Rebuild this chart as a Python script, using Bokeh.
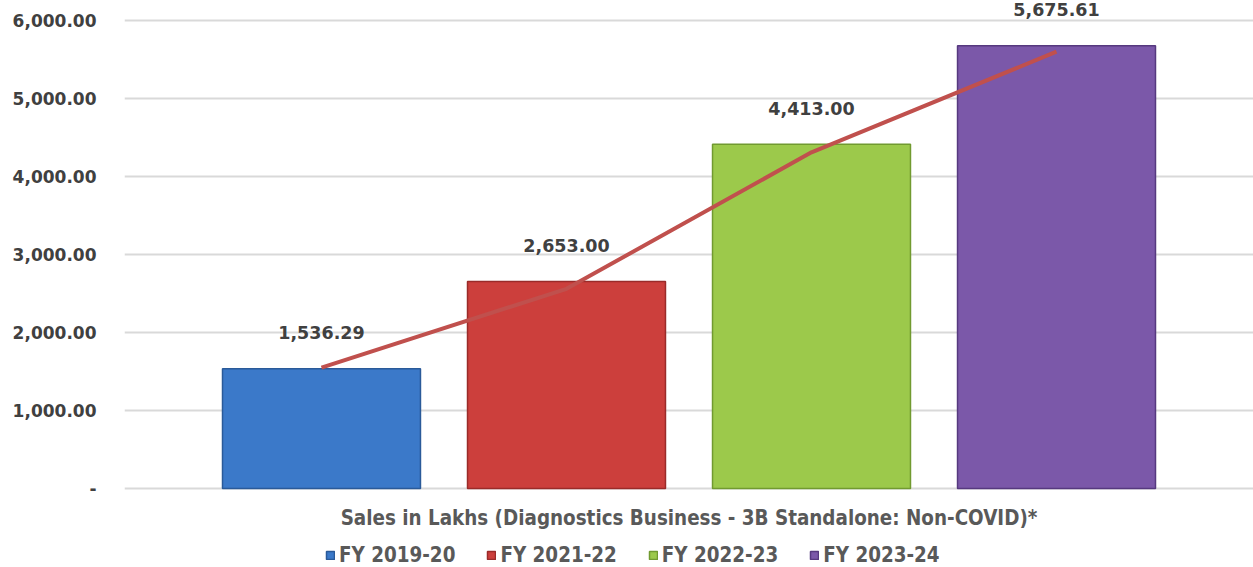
from bokeh.plotting import figure
from bokeh.models import (ColumnDataSource, FixedTicker, NumeralTickFormatter, LabelSet,
                          Legend, LegendItem, Range1d, Label)
from bokeh.core.properties import value
from bokeh.embed import file_html
from bokeh.resources import INLINE

categories = ["FY 2019-20", "FY 2021-22", "FY 2022-23", "FY 2023-24"]
sales = [1536.29, 2653.00, 4413.00, 5675.61]
sales_labels = ["1,536.29", "2,653.00", "4,413.00", "5,675.61"]
trend = [1550, 2560, 4310, 5600]
colors = ["#3b79c9", "#cc3f3c", "#9cc94b", "#7b58a9"]
edges = ["#2a5a99", "#9a2b29", "#719a30", "#56397f"]
y_ticks = [0, 1000, 2000, 3000, 4000, 5000, 6000]
axis_title = "Sales in Lakhs (Diagnostics Business - 3B Standalone: Non-COVID)*"

xs = list(range(len(categories)))
src = ColumnDataSource(dict(x=xs, top=sales, lab=sales_labels, color=colors,
                            edge=edges, cat=categories, trend=trend))

p = figure(width=1253, height=567, output_backend="svg", toolbar_location=None,
           x_range=Range1d(-0.804, 3.804), y_range=Range1d(-1013, 6256),
           min_border_left=124, min_border_right=0, min_border_top=0,
           min_border_bottom=0)
p.outline_line_color = None
p.background_fill_color = "white"
p.xaxis.visible = False

r = p.vbar(x="x", top="top", bottom=0, width=0.808, fill_color="color",
           line_color="edge", line_width=1.5, source=src)
p.line(x="x", y="trend", source=src, line_color="#c0504d", line_width=4)

labels = LabelSet(x="x", y="top", text="lab", source=src, y_offset=36,
                  text_align="center", text_baseline="middle",
                  text_font=value("DejaVu Sans"), text_font_style="bold",
                  text_font_size="17.5px", text_color="#404040")
p.add_layout(labels)

# y axis
p.yaxis.ticker = FixedTicker(ticks=y_ticks)
p.yaxis.formatter = NumeralTickFormatter(format="0,0.00")
p.yaxis.major_label_overrides = {0: "-"}
p.yaxis.axis_line_color = None
p.yaxis.major_tick_line_color = None
p.yaxis.minor_tick_line_color = None
p.yaxis.major_tick_out = 0
p.yaxis.major_label_standoff = 28
p.yaxis.major_label_text_font = "DejaVu Sans"
p.yaxis.major_label_text_font_style = "bold"
p.yaxis.major_label_text_font_size = "17px"
p.yaxis.major_label_text_color = "#404040"

p.ygrid.ticker = FixedTicker(ticks=y_ticks)
p.ygrid.grid_line_color = "#d9d9d9"
p.ygrid.grid_line_width = 2
p.xgrid.grid_line_color = None

# category axis title (below the plotting area)
title = Label(x=1.5, y=50, y_units="screen", text=axis_title,
              text_align="center", text_baseline="middle",
              text_font="DejaVu Sans Condensed", text_font_style="bold",
              text_font_size="20.4px", text_color="#595959")
p.add_layout(title)

items = [LegendItem(label=c, renderers=[r], index=i) for i, c in enumerate(categories)]
legend = Legend(items=items, orientation="horizontal", location=(201, 0),
                glyph_width=10, glyph_height=10, label_standoff=4, spacing=31,
                padding=0, margin=0, border_line_color=None, background_fill_alpha=0,
                label_text_font="DejaVu Sans Condensed", label_text_font_style="bold",
                label_text_font_size="20.4px", label_text_color="#595959")
p.add_layout(legend, "center")

open("out.html", "w").write(file_html(p, INLINE))
